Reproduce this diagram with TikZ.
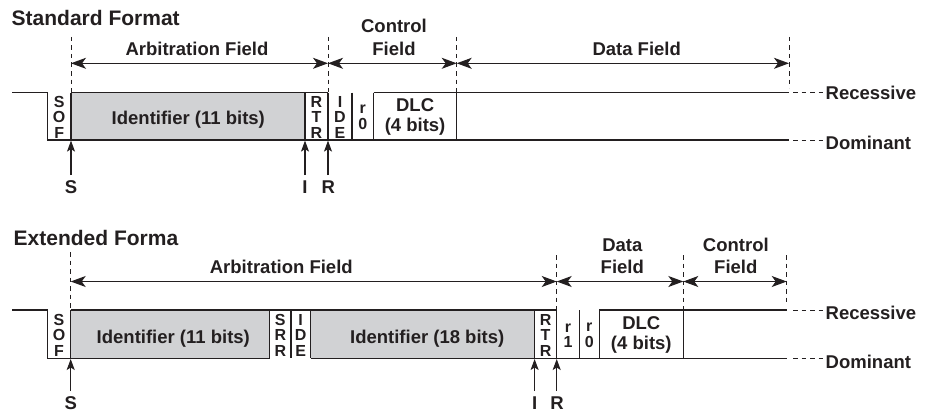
\documentclass[tikz,border=0pt]{standalone}
\usepackage{fontspec}
\setmainfont{Liberation Sans}
\usetikzlibrary{arrows.meta}
\definecolor{ink}{HTML}{231F20}
\definecolor{idgray}{HTML}{D1D2D4}
\begin{document}
\begin{tikzpicture}[x=1pt,y=-1pt,
  sig/.style={draw=ink, line width=1.2pt, line join=miter},
  guide/.style={draw=ink, line width=0.9pt, dash pattern=on 4.5pt off 4pt},
  span/.style={draw=ink, line width=1.1pt,
    {Stealth[length=15pt,width=11pt,inset=4pt]}-{Stealth[length=15pt,width=11pt,inset=4pt]}},
  up/.style={draw=ink, line width=1.1pt, -{Stealth[length=11pt,width=8pt,inset=2.5pt]}},
  tail/.style={draw=ink, line width=0.9pt, dash pattern=on 4.5pt off 4pt},
  lbl/.style={font=\fontsize{18.5}{22}\selectfont\bfseries, text=ink, inner sep=0pt, align=center},
  ttl/.style={font=\fontsize{21}{24}\selectfont\bfseries, text=ink, inner sep=0pt, anchor=base west},
  vert/.style={font=\fontsize{16}{15.5}\selectfont\bfseries, text=ink, inner sep=0pt, align=center},
  txt/.style={font=\fontsize{18.5}{22}\selectfont\bfseries, text=ink, inner sep=0pt, anchor=base},
]
\useasboundingbox (0,0) rectangle (931,412);

% ================= Standard Format =================
\node[ttl] (t1) at (11.5,25.8) {Standard Format};

\fill[idgray] (71,92.5) rectangle (305,140);
\draw[sig] (12,92.5) -- (47.3,92.5) -- (47.3,140) -- (789,140);
\draw[sig] (71,92.5) -- (328,92.5);
\draw[sig] (373.5,92.5) -- (789,92.5);
\foreach \xx in {71,305,328,352,373.5,456.7}
  \draw[sig] (\xx,92.5) -- (\xx,140);

\coordinate (a1) at (71,63.3);
\coordinate (a2) at (328,63.3);
\coordinate (a3) at (456.7,63.3);
\coordinate (a4) at (789,63.3);
\foreach \xx in {71,328,456.7}
  \draw[guide] (\xx,37) -- (\xx,92);
\draw[guide] (789,37) -- (789,88);
\draw[span] (a1) -- (a2);
\draw[span] (a2) -- (a3);
\draw[span] (a3) -- (a4);
\node[txt] (af1) at (197,55.8) {Arbitration Field};
\node[txt] (cf1b) at (394,55.8) {Field};
\node[txt] (cf1a) at (394,32.1) {Control};
\node[txt] (df1) at (636.7,55.8) {Data Field};

\node[vert] (sof1) at (59.2,117.3) {S\\O\\F};
\node[txt] (id1) at (188.3,124.6) {Identifier (11 bits)};
\node[vert] (rtr1) at (316.5,117) {R\\T\\R};
\node[vert] (ide1) at (340,117.3) {I\\D\\E};
\node[vert] (r01) at (362.8,117.5) {r\\0};
\node[lbl] (dlc1) at (415.1,116.5) {DLC\\[-2pt](4 bits)};

\draw[tail] (793,92.5) -- (823,92.5);
\draw[tail] (793,140) -- (823,140);
\node[txt, anchor=base west] (rec1) at (825.5,99.9) {Recessive};
\node[txt, anchor=base west] (dom1) at (825.5,149.3) {Dominant};

\coordinate (pS1) at (71,140.6);
\coordinate (pI1) at (305,140.6);
\coordinate (pR1) at (328,140.6);
\node[txt] (S1) at (71,193) {S};
\node[txt] (I1) at (305,193) {I};
\node[txt] (R1) at (328.3,193) {R};
\draw[up] (71,175) -- (pS1);
\draw[up] (305,175) -- (pI1);
\draw[up] (328,175) -- (pR1);

% ================= Extended Format =================
\node[ttl] (t2) at (13.5,245.5) {Extended Forma};

\fill[idgray] (70.7,310) rectangle (269.7,358.3);
\fill[idgray] (310.5,310) rectangle (534.6,358.3);
\draw[sig] (12,310) -- (47.3,310) -- (47.3,358.3) -- (269.7,358.3);
\draw[sig] (310.5,358.3) -- (786.7,358.3);
\draw[sig] (70.7,310) -- (556.7,310);
\draw[sig] (599.3,310) -- (786.7,310);
\foreach \xx in {70.7,269.7,290.9,310.5,534.6,556.7,579.3,599.3,683.3}
  \draw[sig] (\xx,310) -- (\xx,358.3);

\coordinate (b1) at (70.7,281.5);
\coordinate (b2) at (556.7,281.5);
\coordinate (b3) at (683.3,281.5);
\coordinate (b4) at (786.7,281.5);
\draw[guide] (70.7,252) -- (70.7,309.5);
\draw[guide] (556.7,255) -- (556.7,309.5);
\draw[guide] (683.3,255) -- (683.3,309.5);
\draw[guide] (786.7,255) -- (786.7,304);
\draw[span] (b1) -- (b2);
\draw[span] (b2) -- (b3);
\draw[span] (b3) -- (b4);
\node[txt] (af2) at (281.3,273.3) {Arbitration Field};
\node[txt] (df2a) at (622.3,251.6) {Data};
\node[txt] (df2b) at (622.3,273.3) {Field};
\node[txt] (cf2a) at (735.8,251.6) {Control};
\node[txt] (cf2b) at (735.8,273.3) {Field};

\node[vert] (sof2) at (59,335) {S\\O\\F};
\node[txt] (id2a) at (173.3,343.3) {Identifier (11 bits)};
\node[vert] (srr2) at (280.3,335) {S\\R\\R};
\node[vert] (ide2) at (300.7,335) {I\\D\\E};
\node[txt] (id2b) at (427.2,343.3) {Identifier (18 bits)};
\node[vert] (rtr2) at (545.6,335) {R\\T\\R};
\node[vert] (r12) at (568,335.5) {r\\1};
\node[vert] (r02) at (589.3,335.5) {r\\0};
\node[lbl] (dlc2) at (641.3,334.5) {DLC\\[-2pt](4 bits)};

\draw[tail] (793,310) -- (823,310);
\draw[tail] (793,358.3) -- (823,358.3);
\node[txt, anchor=base west] (rec2) at (825.5,319.3) {Recessive};
\node[txt, anchor=base west] (dom2) at (825.5,368.3) {Dominant};

\coordinate (pS2) at (70.7,359);
\coordinate (pI2) at (534.6,359);
\coordinate (pR2) at (556.7,359);
\node[txt] (S2) at (70.7,409) {S};
\node[txt] (I2) at (534.6,409) {I};
\node[txt] (R2) at (557,409) {R};
\draw[up] (70.7,391) -- (pS2);
\draw[up] (534.6,391) -- (pI2);
\draw[up] (556.7,391) -- (pR2);
\end{tikzpicture}
\end{document}
